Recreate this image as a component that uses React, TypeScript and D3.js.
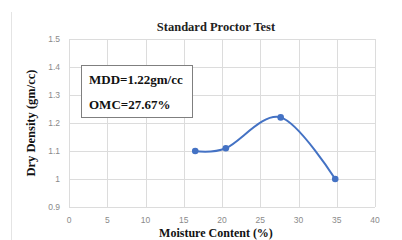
import React from 'react'
import * as d3 from 'd3'

// moisture content (%) and dry density (gm/cc)
const moisture = [16.5, 20.5, 27.67, 34.8]
const density = [1.1, 1.11, 1.22, 1.0]
const xTicks = [0, 5, 10, 15, 20, 25, 30, 35, 40]
const yTicks = [0.9, 1, 1.1, 1.2, 1.3, 1.4, 1.5]
const notes = ['MDD=1.22gm/cc', 'OMC=27.67%']

const W = 402
const H = 240
const margin = {top: 39, right: 27, bottom: 33, left: 69}

export default function App () {
  const x = d3.scaleLinear().domain([0, 40]).range([margin.left, W - margin.right])
  const y = d3.scaleLinear().domain([0.9, 1.5]).range([H - margin.bottom, margin.top])

  const pts: [number, number][] = moisture.map((m, i) => [m, density[i]])
  const line = d3.line<[number, number]>()
    .x(d => x(d[0]))
    .y(d => y(d[1]))
    .curve(d3.curveCardinal.tension(0))

  const tickFont = '"Liberation Sans", Arial, sans-serif'
  const serif = '"Liberation Serif", "Times New Roman", serif'

  return (
    <svg width={W} height={H} style={{position: 'absolute', left: 0, top: 0, background: '#fff'}}>
      <rect x={0} y={0} width={W} height={H} fill='#fff' />
      {/* chart frame edge */}
      <line x1={11.5} x2={11.5} y1={12} y2={H} stroke='#e4e4e4' />

      {/* grid */}
      {yTicks.map(t => (
        <line key={'gy' + t} x1={x(0)} x2={x(40)} y1={Math.round(y(t)) + 0.5} y2={Math.round(y(t)) + 0.5}
          stroke='#dcdcdc' strokeWidth={1} />
      ))}
      {xTicks.map(t => (
        <line key={'gx' + t} x1={Math.round(x(t)) + 0.5} x2={Math.round(x(t)) + 0.5} y1={y(1.5)} y2={y(0.9)}
          stroke='#dcdcdc' strokeWidth={1} />
      ))}

      {/* tick labels */}
      {yTicks.map(t => (
        <text key={'ty' + t} x={60} y={y(t) + 3} textAnchor='end' fontSize={8.5}
          fontFamily={tickFont} fill='#8a8a8a'>{String(t)}</text>
      ))}
      {xTicks.map(t => (
        <text key={'tx' + t} x={x(t)} y={223} textAnchor='middle' fontSize={8.5}
          fontFamily={tickFont} fill='#8a8a8a'>{String(t)}</text>
      ))}

      {/* series */}
      <path d={line(pts) || ''} fill='none' stroke='#4472c4' strokeWidth={2} />
      {pts.map((d, i) => (
        <circle key={'p' + i} cx={x(d[0])} cy={y(d[1])} r={3.3} fill='#4472c4' />
      ))}

      {/* annotation box */}
      <rect x={81.5} y={65.5} width={111} height={52} fill='#fff' stroke='#7f7f7f' strokeWidth={1} />
      {notes.map((n, i) => (
        <text key={'n' + i} x={89} y={83.5 + i * 25} fontSize={13} fontWeight='bold'
          fontFamily={serif} fill='#111'>{n}</text>
      ))}

      {/* titles */}
      <text x={216} y={31} textAnchor='middle' fontSize={12.5} fontWeight='bold'
        fontFamily={serif} fill='#222'>Standard Proctor Test</text>
      <text x={216} y={236.5} textAnchor='middle' fontSize={12} fontWeight='bold'
        fontFamily={serif} fill='#111'>Moisture Content (%)</text>
      <text transform={`translate(35, ${y(1.2)}) rotate(-90)`} textAnchor='middle' fontSize={12.5} fontWeight='bold'
        fontFamily={serif} fill='#111'>Dry Density (gm/cc)</text>
    </svg>
  )
}
